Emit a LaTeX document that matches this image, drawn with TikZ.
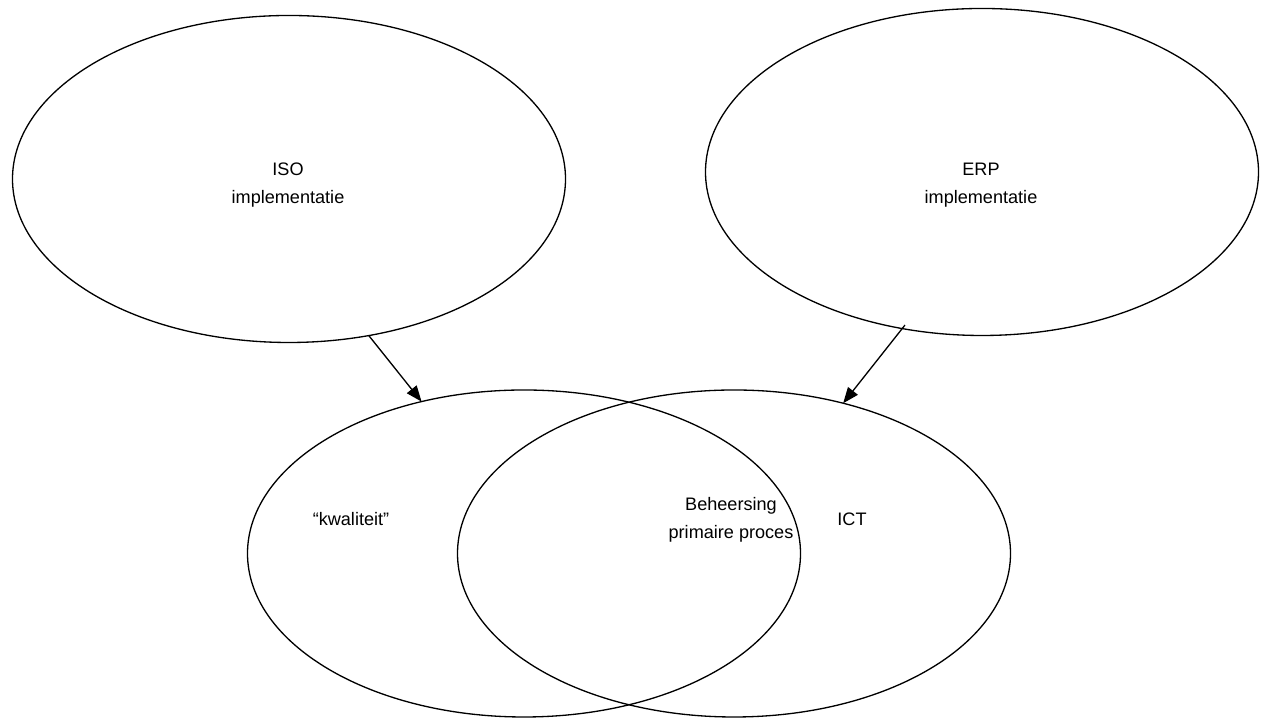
\documentclass[tikz,border=0pt]{standalone}
\usepackage{fontspec}
\setmainfont{Liberation Sans}
\usetikzlibrary{shapes.geometric}
\usetikzlibrary{arrows.meta}

\begin{document}
\begin{tikzpicture}[
  font=\fontsize{10.3}{15.9}\selectfont,
  blob/.style={draw, ellipse, line width=0.75pt, inner sep=0pt, outer sep=0pt,
    minimum width=11.06cm, minimum height=6.54cm},
  label/.style={align=center, inner sep=0pt},
  edge/.style={-{Triangle[length=9pt, width=7pt]}, line width=0.75pt}
]
\useasboundingbox (0,0) rectangle (25.26,14.36);

% ellipses
\node[blob] (iso) at (5.78,10.78) {};
\node[blob] (erp) at (19.64,10.92) {};
\node[blob] (kwal) at (10.48,3.29) {};
\node[blob] (ict) at (14.68,3.29) {};

% texts
\node[label] (isotxt) at (5.76,10.66) {ISO\\implementatie};
\node[label] (erptxt) at (19.62,10.66) {ERP\\implementatie};
\node[label] (kwaltxt) at (7.02,3.98) {“kwaliteit”};
\node[label] (beh) at (14.62,3.96) {Beheersing\\primaire proces};
\node[label] (icttxt) at (17.04,3.98) {ICT};

% arrows
\draw[edge] (iso.-63.7) -- (kwal.124.8);
\draw[edge, shorten <=-2.5pt] (erp.-117.1) -- (ict.54.9);
\end{tikzpicture}
\end{document}
